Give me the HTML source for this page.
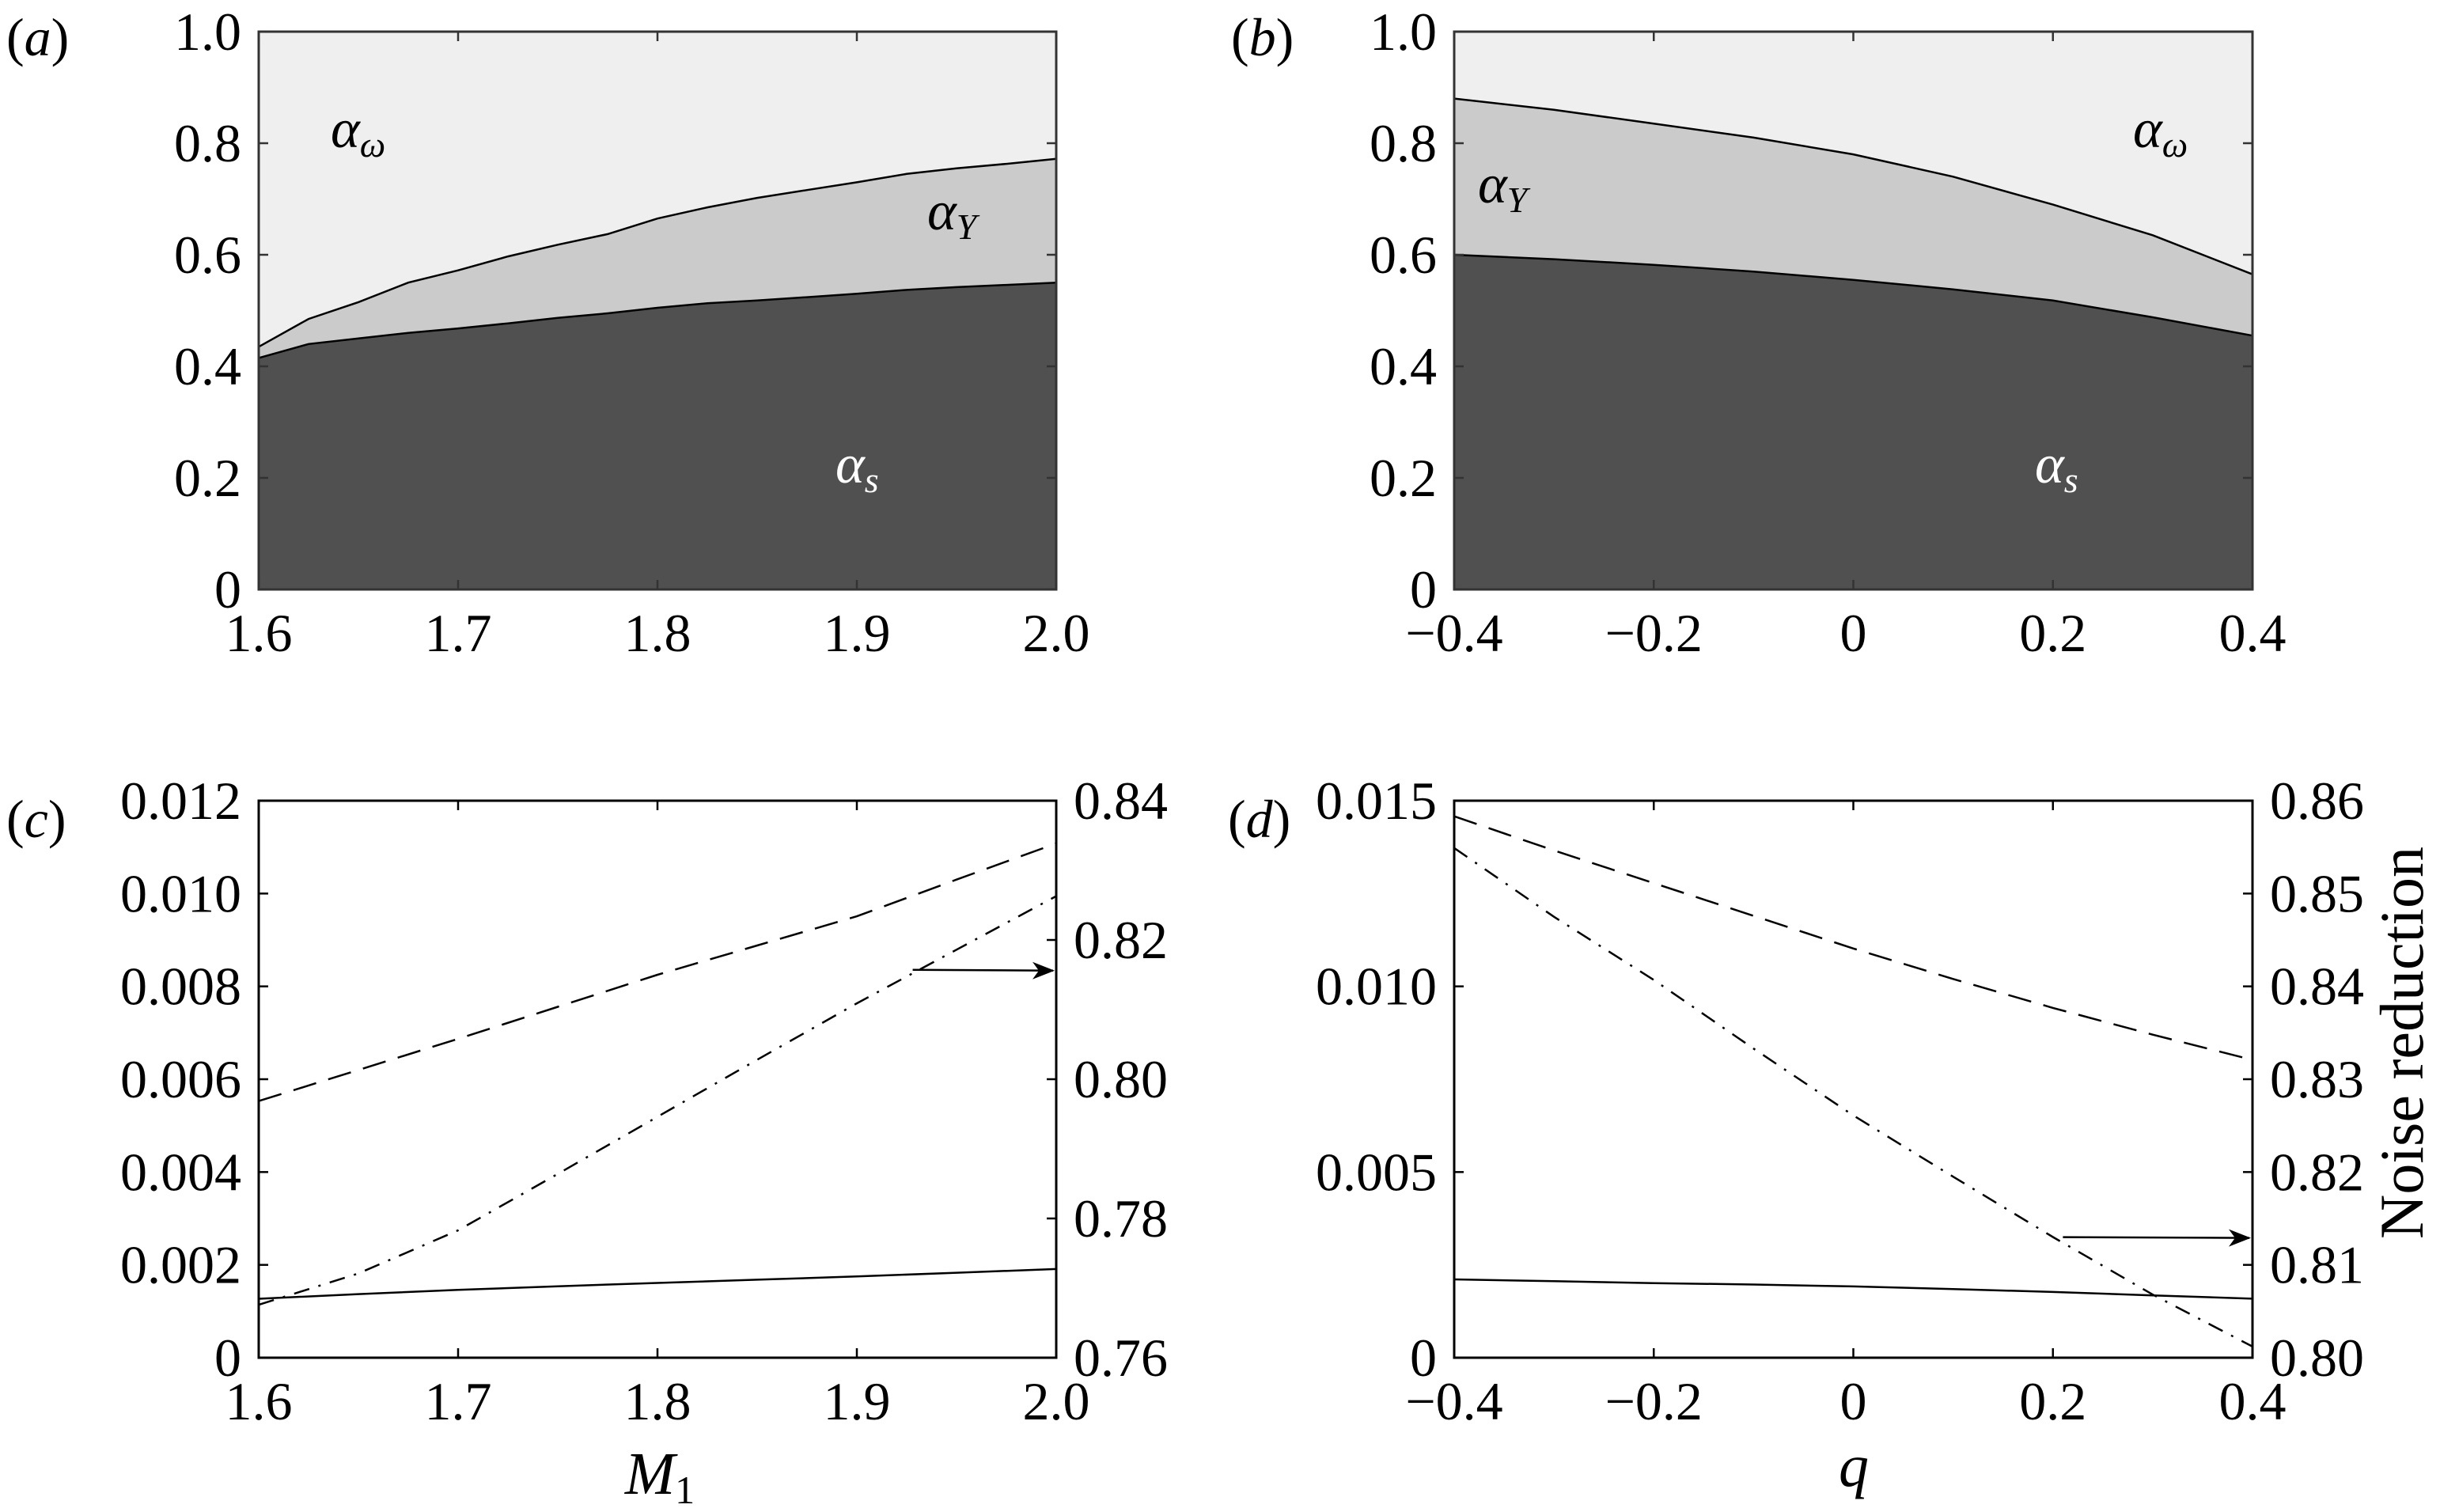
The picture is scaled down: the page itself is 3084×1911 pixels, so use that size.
<!DOCTYPE html>
<html><head><meta charset="utf-8"><style>
html,body{margin:0;padding:0;background:#fff;}
svg{display:block;font-family:"Liberation Serif","DejaVu Serif",serif;}
</style></head><body>
<svg id="fig" width="3084" height="1911" viewBox="0 0 3084 1911" xmlns="http://www.w3.org/2000/svg"></svg>
<script>
// ---- data ----
const aX = [1.6,1.625,1.65,1.675,1.7,1.725,1.75,1.775,1.8,1.825,1.85,1.875,1.9,1.925,1.95,1.975,2.0];
const aS = [.415,.44,.45,.46,.468,.477,.487,.495,.505,.513,.518,.524,.53,.537,.542,.546,.55];
const aTop = [.435,.485,.515,.55,.572,.597,.618,.637,.665,.685,.702,.716,.73,.745,.755,.763,.772];
const bX = [-0.4,-0.3,-0.2,-0.1,0,0.1,0.2,0.3,0.4];
const bS = [.600,.592,.582,.570,.555,.538,.518,.488,.455];
const bTop = [.88,.86,.835,.81,.78,.74,.69,.635,.565];
const cX = [1.6,1.65,1.7,1.75,1.8,1.85,1.9,1.95,2.0];
const cSolid = [.00127,.00137,.00146,.00154,.00161,.00168,.00175,.00183,.00191];
const cDash = [.00553,.0062,.00687,.00756,.00825,.00888,.00951,.0103,.01108];
const cDashDot = [.7676,.7721,.7783,.7864,.7946,.8028,.8109,.8186,.8263];
const dX = [-0.4,-0.3,-0.2,-0.1,0,0.1,0.2,0.3,0.4];
const dSolid = [.00211,.00206,.00201,.00197,.00192,.00185,.00177,.00168,.00159];
const dDash = [.01458,.01366,.01278,.0119,.01102,.0102,.00942,.0087,.00802];
const dDashDot = [.8549,.8475,.8407,.8333,.8261,.8195,.8130,.8068,.8012];
const ticksM = [1.6,1.7,1.8,1.9,2.0];
const ticksMLabels = ["1.6","1.7","1.8","1.9","2.0"];
const ticksQ = [-0.4,-0.2,0,0.2,0.4];
const ticksQLabels = ["\u22120.4","\u22120.2","0","0.2","0.4"];
const ticksA = [0,0.2,0.4,0.6,0.8,1.0];
const ticksALabels = ["0","0.2","0.4","0.6","0.8","1.0"];
const ticksC = [0,0.002,0.004,0.006,0.008,0.010,0.012];
const ticksCLabels = ["0","0.002","0.004","0.006","0.008","0.010","0.012"];
const ticksCR = [0.76,0.78,0.80,0.82,0.84];
const ticksCRLabels = ["0.76","0.78","0.80","0.82","0.84"];
const ticksD = [0,0.005,0.010,0.015];
const ticksDLabels = ["0","0.005","0.010","0.015"];
const ticksDR = [0.80,0.81,0.82,0.83,0.84,0.85,0.86];
const ticksDRLabels = ["0.80","0.81","0.82","0.83","0.84","0.85","0.86"];

const NS="http://www.w3.org/2000/svg";
const svg=document.getElementById('fig');
function mk(tag,attrs,parent){const e=document.createElementNS(NS,tag);for(const k in attrs)e.setAttribute(k,attrs[k]);(parent||svg).appendChild(e);return e;}
function lin(d0,d1,r0,r1){return v=>r0+(v-d0)/(d1-d0)*(r1-r0);}
function pts(xs,ys,sx,sy){return xs.map((x,i)=>sx(x).toFixed(1)+','+sy(ys[i]).toFixed(1));}

const FS=68;
function axes(g,L,R,T,B,sx,sy,xt,xl,yt,yl,sy2,yt2,yl2,col){
  mk('rect',{x:L,y:T,width:R-L,height:B-T,fill:'none',stroke:col,'stroke-width':3},g);
  xt.forEach((v,i)=>{const x=sx(v);
    mk('line',{x1:x,y1:B,x2:x,y2:B-12,stroke:col,'stroke-width':2.5},g);
    mk('line',{x1:x,y1:T,x2:x,y2:T+12,stroke:col,'stroke-width':2.5},g);
    const t=mk('text',{x:x,y:B+78,'font-size':FS,'text-anchor':'middle'},g);t.textContent=xl[i];
    
    });
  yt.forEach((v,i)=>{const y=sy(v);
    mk('line',{x1:L,y1:y,x2:L+12,y2:y,stroke:col,'stroke-width':2.5},g);
    if(!sy2) mk('line',{x1:R,y1:y,x2:R-12,y2:y,stroke:col,'stroke-width':2.5},g);
    const t=mk('text',{x:L-22,y:y+23,'font-size':FS,'text-anchor':'end'},g);t.textContent=yl[i];
    
    });
  if(sy2) yt2.forEach((v,i)=>{const y=sy2(v);
    mk('line',{x1:R,y1:y,x2:R-12,y2:y,stroke:col,'stroke-width':2.5},g);
    const t=mk('text',{x:R+22,y:y+23,'font-size':FS,'text-anchor':'start'},g);t.textContent=yl2[i];
    
    });
}
function panelLabel(x,y,ch){const t=mk('text',{x:x,y:y,'font-size':FS});
  t.innerHTML='(<tspan font-style="italic">'+ch+'</tspan>)';
  
  }
function alpha(x,y,sub,fill,name){const t=mk('text',{x:x,y:y,'font-size':70,'font-style':'italic',fill:fill});
  t.innerHTML='\u03b1<tspan font-size="46" dy="12">'+sub+'</tspan>';
  
  }

function stack(name,L,R,T,B,xs,s,top,xt,xl){
  const g=mk('g',{});
  
  
  const sx=lin(xs[0],xs[xs.length-1],L,R), sy=lin(0,1,B,T);
  const r=mk('rect',{x:L,y:T,width:R-L,height:B-T,fill:'#efefef'},g);
  
  const ps=pts(xs,s,sx,sy), pt=pts(xs,top,sx,sy);
  const m=mk('polygon',{points:[L+','+B].concat(pt,[R+','+B]).join(' '),fill:'#cbcbcb'},g);
  
  const d=mk('polygon',{points:[L+','+B].concat(ps,[R+','+B]).join(' '),fill:'#505050'},g);
  
  mk('polyline',{points:pt.join(' '),fill:'none',stroke:'#000','stroke-width':2.5},g);
  mk('polyline',{points:ps.join(' '),fill:'none',stroke:'#000','stroke-width':2.5},g);
  axes(g,L,R,T,B,sx,sy,xt,xl,ticksA,ticksALabels,null,null,null,'#333');
}
stack('panel-a',327,1335,40,745,aX,aS,aTop,ticksM,ticksMLabels);
stack('panel-b',1838,2847,40,745,bX,bS,bTop,ticksQ,ticksQLabels);

function lines(name,L,R,T,B,xs,solid,dash,dd,yMax,r0,r1,xt,xl,yt,yl,yt2,yl2,arrowX,arrowV){
  const g=mk('g',{});
  
  
  const sx=lin(xs[0],xs[xs.length-1],L,R), sy=lin(0,yMax,B,T), sy2=lin(r0,r1,B,T);
  mk('polyline',{points:pts(xs,solid,sx,sy).join(' '),fill:'none',stroke:'#000','stroke-width':2.5},g);
  mk('polyline',{points:pts(xs,dash,sx,sy).join(' '),fill:'none',stroke:'#000','stroke-width':2.5,'stroke-dasharray':'30 16'},g);
  mk('polyline',{points:pts(xs,dd,sx,sy2).join(' '),fill:'none',stroke:'#000','stroke-width':2.5,'stroke-dasharray':'20 12 3 12'},g);
  const ay=sy2(arrowV);
  mk('line',{x1:sx(arrowX),y1:ay-1,x2:R-4,y2:ay,stroke:'#000','stroke-width':2.5},g);
  mk('polygon',{points:`${R-2},${ay} ${R-30},${ay-11} ${R-22},${ay} ${R-30},${ay+11}`,fill:'#000'},g);
  axes(g,L,R,T,B,sx,sy,xt,xl,yt,yl,sy2,yt2,yl2,'#000');
}
lines('panel-c',327,1335,1012,1716,cX,cSolid,cDash,cDashDot,0.012,0.76,0.84,ticksM,ticksMLabels,ticksC,ticksCLabels,ticksCR,ticksCRLabels,1.928,0.8156);
lines('panel-d',1838,2847,1012,1716,dX,dSolid,dDash,dDashDot,0.015,0.80,0.86,ticksQ,ticksQLabels,ticksD,ticksDLabels,ticksDR,ticksDRLabels,0.21,0.8129);

panelLabel(8,70,'a');panelLabel(1556,70,'b');panelLabel(8,1058,'c');panelLabel(1552,1058,'d');
alpha(418,186,'\u03c9','#000','alpha-omega-label-a');
alpha(1172,290,'Y','#000','alpha-y-label-a');
alpha(1056,610,'s','#fff','alpha-s-label-a');
alpha(1868,256,'Y','#000','alpha-y-label-b');
alpha(2696,186,'\u03c9','#000','alpha-omega-label-b');
alpha(2572,610,'s','#fff','alpha-s-label-b');

let t=mk('text',{x:834,y:1888,'font-size':76,'text-anchor':'middle','font-style':'italic'});
t.innerHTML='M<tspan font-style="normal" font-size="50" dy="12">1</tspan>';


t=mk('text',{x:2343,y:1878,'font-size':76,'text-anchor':'middle','font-style':'italic'});
t.textContent='q';


t=mk('text',{x:0,y:0,'font-size':78,'text-anchor':'middle',transform:'translate(3062,1318) rotate(-90)'});
t.textContent='Noise reduction';


</script>
</body></html>
